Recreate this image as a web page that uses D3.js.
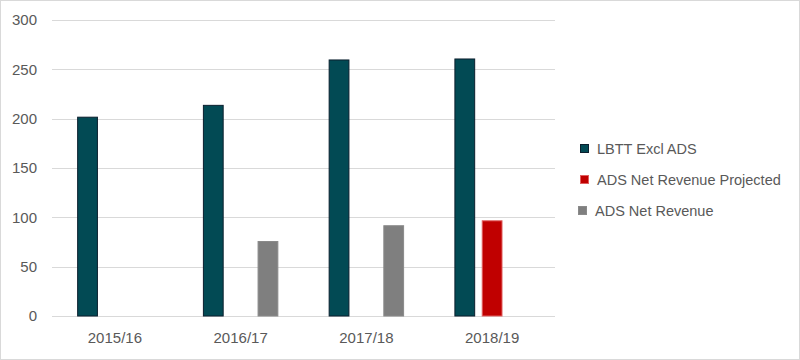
<!DOCTYPE html>
<html>
<head>
<meta charset="utf-8">
<script src="https://cdn.jsdelivr.net/npm/d3@7"></script>
<style>
  html, body { margin: 0; padding: 0; background: #fff; }
  svg { display: block; }
</style>
</head>
<body>
<svg id="chart" width="800" height="360"></svg>
<script>
const categories = ["2015/16", "2016/17", "2017/18", "2018/19"];
const seriesNames = ["LBTT Excl ADS", "ADS Net Revenue Projected", "ADS Net Revenue"];
const lbttExclAds = [202, 214, 260, 261];
const adsProjected = [null, null, null, 97];
const adsNetRevenue = [null, 76, 92, null];
const yTicks = [0, 50, 100, 150, 200, 250, 300];

const seriesValues = [lbttExclAds, adsProjected, adsNetRevenue];
const fills = ["#024A54", "#C00000", "#7F7F7F"];
const strokes = ["#0b1f2e", "#e06060", "#8a8a8a"];

const svg = d3.select("#chart");
const W = 800, H = 360;
const font = "'Liberation Sans', Arial, sans-serif";

// outer frame
svg.append("rect").attr("x", 0.5).attr("y", 0.5).attr("width", W - 1).attr("height", H - 1)
  .attr("fill", "#fff").attr("stroke", "#d9d9d9").attr("stroke-width", 1);

const plot = { left: 52, right: 555, top: 20, bottom: 316 };

const x = d3.scaleBand().domain(categories).range([plot.left, plot.right]).paddingInner(0).paddingOuter(0);
const bw = x.bandwidth();
const x1 = d3.scaleBand().domain(d3.range(seriesNames.length)).range([0.2 * bw, 0.8 * bw]).paddingInner(0.24);
const y = d3.scaleLinear().domain([0, 300]).range([plot.bottom, plot.top]);

// gridlines
svg.append("g").selectAll("line").data(yTicks).join("line")
  .attr("x1", plot.left).attr("x2", plot.right)
  .attr("y1", d => Math.round(y(d)) + 0.5).attr("y2", d => Math.round(y(d)) + 0.5)
  .attr("stroke", "#d9d9d9").attr("stroke-width", 1);

// y axis labels
const yAxis = d3.axisLeft(y).tickValues(yTicks).tickSize(0).tickPadding(0);
const yg = svg.append("g").attr("transform", `translate(${plot.left - 15},0)`).call(yAxis);
yg.select(".domain").remove();
yg.selectAll("text").attr("font-family", font).attr("font-size", 15).attr("fill", "#595959");

// bars
const data = [];
categories.forEach((c, i) => {
  seriesValues.forEach((vals, s) => {
    if (vals[i] != null) data.push({ cat: c, s, v: vals[i] });
  });
});
svg.append("g").selectAll("rect").data(data).join("rect")
  .attr("x", d => x(d.cat) + x1(d.s) + 0.5)
  .attr("y", d => y(d.v) + 0.5)
  .attr("width", x1.bandwidth() - 1)
  .attr("height", d => y(0) - y(d.v) - 0.5)
  .attr("fill", d => fills[d.s])
  .attr("stroke", d => strokes[d.s])
  .attr("stroke-width", 1);

// x axis
const xAxis = d3.axisBottom(x).tickSize(0).tickPadding(0);
const xg = svg.append("g").attr("transform", `translate(0,${plot.bottom + 16})`).call(xAxis);
xg.select(".domain").remove();
xg.selectAll("text").attr("font-family", font).attr("font-size", 15).attr("fill", "#595959")
  .attr("dy", "0.71em");

// legend
const legendY = [149, 180, 211];
const legendX = [580, 580, 578];
const lg = svg.append("g");
seriesNames.forEach((name, i) => {
  lg.append("rect").attr("x", legendX[i] + 0.5).attr("y", legendY[i] - 4.5)
    .attr("width", 8).attr("height", 8)
    .attr("fill", fills[i]).attr("stroke", strokes[i]).attr("stroke-width", 1);
  lg.append("text").attr("x", legendX[i] + 17).attr("y", legendY[i])
    .attr("dy", "0.35em")
    .attr("font-family", font).attr("font-size", 14.5).attr("fill", "#595959")
    .text(name);
});
</script>
</body>
</html>
